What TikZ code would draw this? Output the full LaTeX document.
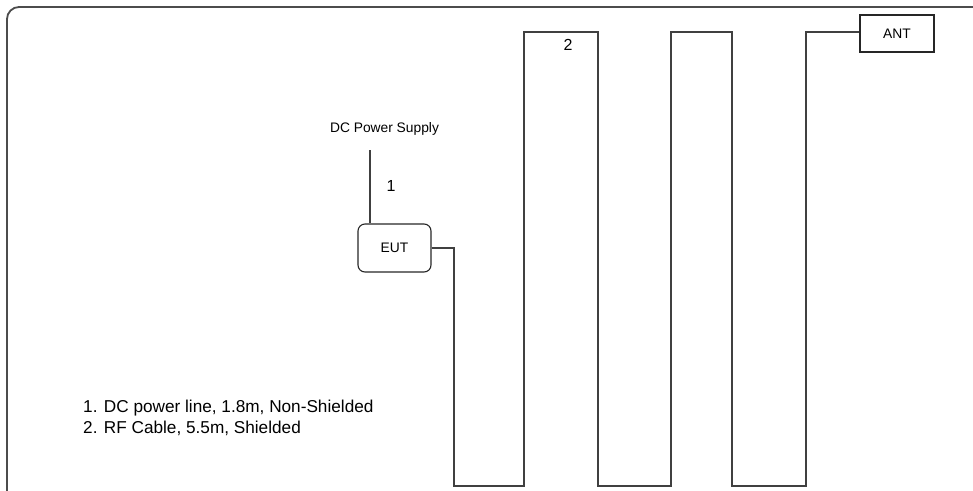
\documentclass[tikz,border=0pt]{standalone}
\usepackage{fontspec}
\setmainfont{Liberation Sans}
\usepackage{tikz}
\usetikzlibrary{positioning}
\colorlet{wirecol}{black!75}

\begin{document}
\begin{tikzpicture}[x=1pt, y=-1pt,
  wire/.style={draw=wirecol, line width=1.3pt},
  eutbox/.style={draw=black!85, line width=1.1pt, rounded corners=7pt, minimum width=73pt, minimum height=48pt, inner sep=0pt},
  antbox/.style={draw=black!85, line width=1.1pt, minimum width=74pt, minimum height=37pt, inner sep=0pt},
  lbl/.style={font=\fontsize{13.8}{16}\selectfont},
  num/.style={font=\fontsize{16}{19}\selectfont}]
  \useasboundingbox (0,0) rectangle (973,490);
  \clip (0,0) rectangle (973,490);
  % outer frame
  \draw[black!70, line width=1.8pt, rounded corners=12pt] (7,7) rectangle (1000,520);
  % units
  \node[eutbox, lbl] (eut) at (394.5,248) {EUT};
  \node[antbox, lbl] (ant) at (897,33.5) {ANT};
  \node[lbl] (dcps) at (384.5,129) {DC Power Supply};
  \coordinate (dctop) at (370,150);
  % 1. DC power line
  \draw[wire] (dctop) -- (dctop |- eut.north);
  \node[num] (n1) at (391,186) {1};
  % 2. RF cable
  \draw[wire] (eut.east) -- (454,248) -- (454,486) -- (524,486) -- (524,32)
    -- (598,32) -- (598,486) -- (671,486) -- (671,32) -- (732,32)
    -- (732,486) -- (806,486) -- (806,32) -- (ant.west |- 0,32);
  \node[num] (n2) at (568,45) {2};
  % legend
  \node[anchor=west, align=left, inner sep=0pt, font=\fontsize{17.2}{21}\selectfont] (legend) at (83,417.5)
    {1. DC power line, 1.8m, Non-Shielded\\2. RF Cable, 5.5m, Shielded};
\end{tikzpicture}
\end{document}
